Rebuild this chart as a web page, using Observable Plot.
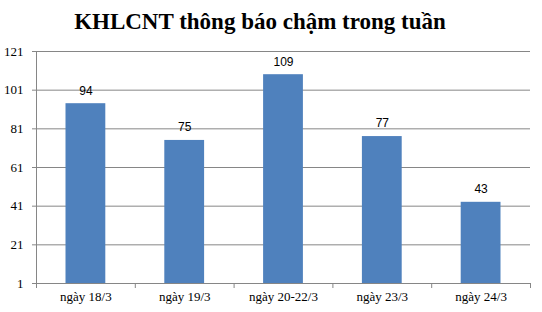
<!DOCTYPE html>
<html>
<head>
<meta charset="utf-8">
<script src="https://cdn.jsdelivr.net/npm/d3@7"></script>
<script src="https://cdn.jsdelivr.net/npm/@observablehq/plot@0.6"></script>
<style>
  html, body { margin: 0; padding: 0; background: #fff; }
  #title { width: 542px; height: 42px; box-sizing: border-box; padding: 8px 22px 0 0; text-align: center;
    font: bold 23px "Liberation Serif", "Times New Roman", serif; line-height: 28px; color: #000; }
</style>
</head>
<body>
<div id="title">KHLCNT thông báo chậm trong tuần</div>
<div id="chart"></div>
<script>
const categories = ["ngày 18/3", "ngày 19/3", "ngày 20-22/3", "ngày 23/3", "ngày 24/3"];
const values = [94, 75, 109, 77, 43];
const yTicks = [1, 21, 41, 61, 81, 101, 121];

const data = categories.map((c, i) => ({ i, c, v: values[i] }));
const bounds = d3.range(categories.length + 1);

const chart = Plot.plot({
  width: 542,
  height: 270,
  marginTop: 9,
  marginBottom: 29,
  marginLeft: 36,
  marginRight: 12,
  x: { domain: [0, categories.length], axis: null, label: null },
  y: { domain: [1, 121], axis: null, label: null },
  style: { background: "#fff" },
  marks: [
    Plot.ruleY(yTicks, { y: d => d, stroke: "#868686", strokeWidth: 1 }),
    Plot.ruleX([0], { y1: 1, y2: 121, stroke: "#868686" }),
    Plot.axisX({ ticks: bounds, tickSize: 5, tickFormat: () => "", label: null, stroke: "#868686" }),
    Plot.axisY({ ticks: yTicks, tickSize: 4, tickFormat: () => "", label: null, stroke: "#868686" }),
    Plot.text(yTicks, { y: d => d, frameAnchor: "left", dx: -13, textAnchor: "end", text: d => String(d),
      fontFamily: "Liberation Serif, Times New Roman, serif", fontSize: 13, fill: "#000" }),
    Plot.rect(data, { x1: "i", x2: d => d.i + 1, y1: 1, y2: "v", insetLeft: 29.5, insetRight: 29.5, fill: "#4F81BD" }),
    Plot.text(data, { x: d => d.i + 0.5, y: "v", dy: -13, text: d => String(d.v),
      fontFamily: "Liberation Sans, Arial, sans-serif", fontSize: 12, fill: "#000" }),
    Plot.text(data, { x: d => d.i + 0.5, frameAnchor: "bottom", dy: 17, text: "c",
      fontFamily: "Liberation Serif, Times New Roman, serif", fontSize: 13, fill: "#000" })
  ]
});

document.getElementById("chart").appendChild(chart);
</script>
</body>
</html>
